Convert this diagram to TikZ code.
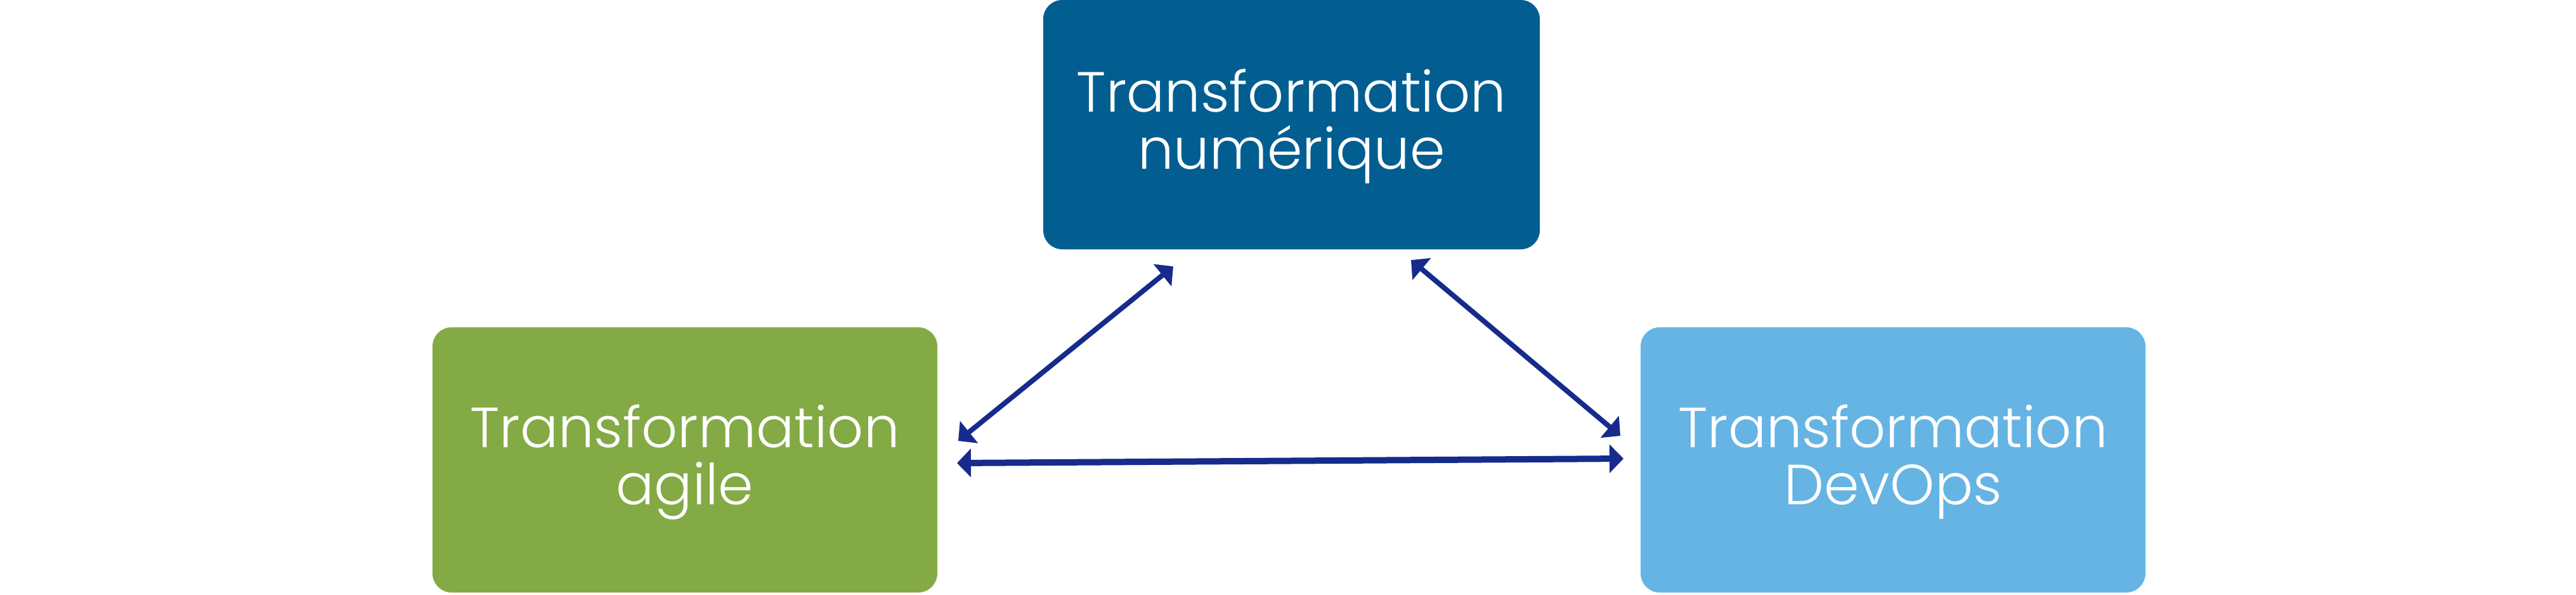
\documentclass[tikz,border=0pt]{standalone}
\usepackage{fontspec}
\setmainfont{Poppins}[UprightFont={* Light}]
\usetikzlibrary{arrows.meta}
\definecolor{numblue}{RGB}{2,94,145}
\definecolor{agilegreen}{RGB}{131,170,68}
\definecolor{devopsblue}{RGB}{101,180,228}
\definecolor{linkblue}{RGB}{22,43,140}
\tikzset{
	trbox/.style={rounded corners=0.3cm, text=white, align=center,
		font=\fontsize{25.4}{25.6}\selectfont, inner sep=0pt,
		text height=1.6cm, text depth=0.2cm},
	link/.style={linkblue, line width=0.08cm,
		{Triangle[length=0.22cm,width=0.44cm]}-{Triangle[length=0.22cm,width=0.44cm]}}
}
\begin{document}
\begin{tikzpicture}
\useasboundingbox (0,0) rectangle (40.62,9.37);
\node[trbox, fill=numblue, minimum width=7.83cm, minimum height=3.93cm] (num) at (20.365,7.405) {Transformation\\numérique};
\node[trbox, fill=agilegreen, minimum width=7.96cm, minimum height=4.18cm] (agile) at (10.80,2.12) {Transformation\\agile};
\node[trbox, fill=devopsblue, minimum width=7.96cm, minimum height=4.18cm] (devops) at (29.85,2.12) {Transformation\\DevOps};
% arrow ends
\coordinate (numL) at (18.50,5.17);
\coordinate (numR) at (22.25,5.27);
\coordinate (agileT) at (15.11,2.42);
\coordinate (agileB) at (15.09,2.07);
\coordinate (devopsT) at (25.55,2.50);
\coordinate (devopsB) at (25.60,2.14);
\draw[link] (agileT) -- (numL);
\draw[link] (numR) -- (devopsT);
\draw[link, line width=0.1cm] (agileB) -- (devopsB);
\end{tikzpicture}
\end{document}
